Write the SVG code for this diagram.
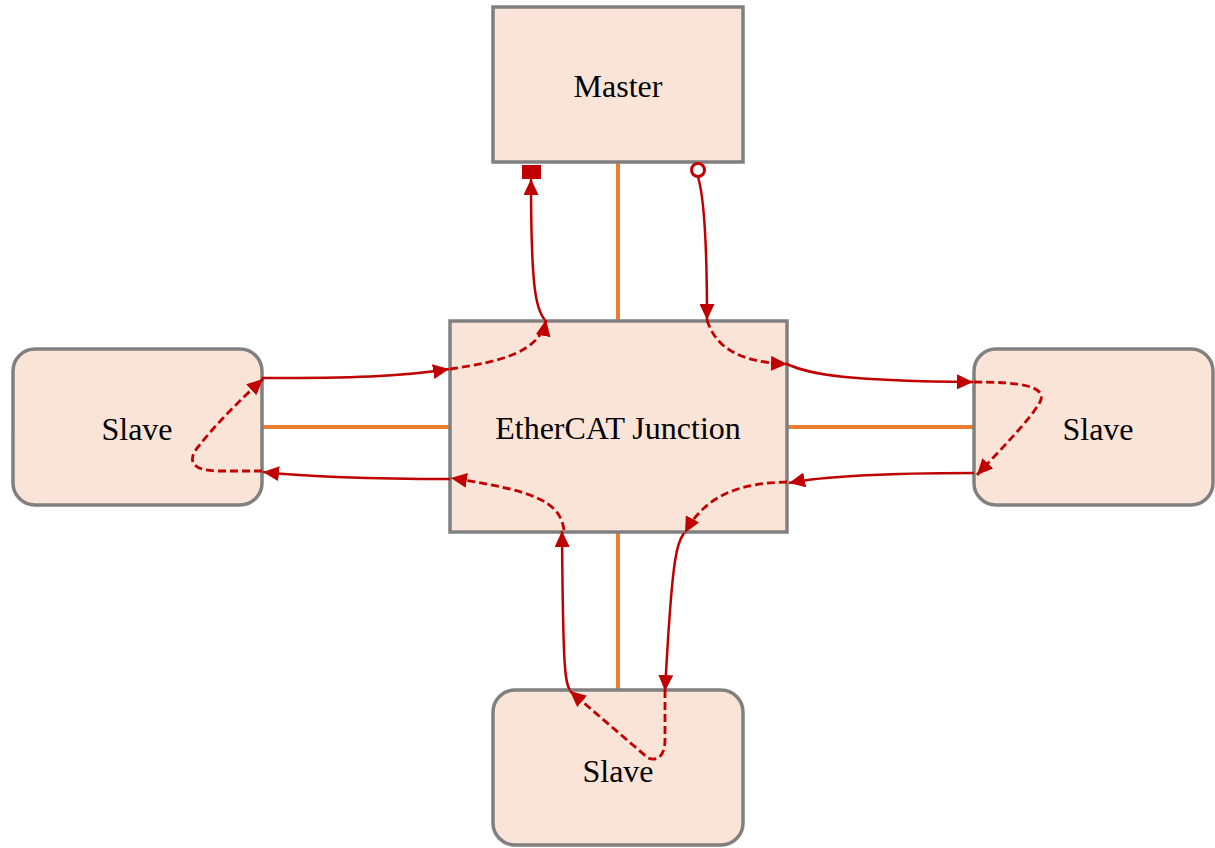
<svg xmlns="http://www.w3.org/2000/svg" width="1215" height="848" viewBox="0 0 1215 848">
<style>
.node{fill:#FAE4D7;stroke:#808080;stroke-width:3.5}
.lbl{font-family:"Liberation Serif","DejaVu Serif",serif;font-size:32px;fill:#000;text-anchor:middle;dominant-baseline:central}
.link{stroke:#ED7D31;stroke-width:4;fill:none}
.flow{stroke:#C00000;stroke-width:2.5;fill:none}
.dash{stroke-width:2.8;stroke-dasharray:8,4}
</style>
<defs>
<marker id="ah" markerUnits="userSpaceOnUse" markerWidth="17" markerHeight="15" refX="16" refY="7.5" orient="auto">
<path d="M0,0 L16,7.5 L0,15 Z" fill="#C00000"/>
</marker>
</defs>
<g id="links">
<line class="link" x1="618" y1="162" x2="618" y2="321"/>
<line class="link" x1="262" y1="427" x2="450" y2="427"/>
<line class="link" x1="787" y1="427" x2="974" y2="427"/>
<line class="link" x1="618" y1="532" x2="618" y2="690"/>
</g>
<g id="master">
<rect class="node" x="493" y="7" width="250" height="155"/>
<text class="lbl" x="618" y="86">Master</text>
</g>
<g id="junction">
<rect class="node" x="450" y="321" width="337" height="211"/>
<text class="lbl" x="618" y="428">EtherCAT Junction</text>
</g>
<g id="slave-left">
<rect class="node" x="13" y="349" width="249" height="156" rx="22"/>
<text class="lbl" x="137" y="429">Slave</text>
</g>
<g id="slave-right">
<rect class="node" x="974" y="349" width="239" height="156" rx="22"/>
<text class="lbl" x="1098" y="429">Slave</text>
</g>
<g id="slave-bottom">
<rect class="node" x="493" y="690" width="250" height="155" rx="22"/>
<text class="lbl" x="618" y="771">Slave</text>
</g>
<g id="connectors">
<rect x="522" y="165" width="19" height="14" fill="#C00000"/>
<circle cx="698" cy="170" r="6.5" fill="#fff" stroke="#C00000" stroke-width="3"/>
<path class="flow" d="M545,320 C536,310 531,290 531,179" marker-end="url(#ah)"/>
<path class="flow" d="M698,177 C702,190 707,220 707,320" marker-end="url(#ah)"/>
<path class="flow dash" d="M707,320 C715,345 735,362 787,364" marker-end="url(#ah)"/>
<path class="flow" d="M787,364 C810,375 850,381 973,382" marker-end="url(#ah)"/>
<path class="flow dash" d="M974,382 C1020,382 1048,386 1040,402 C1030,420 1000,450 977,475" marker-end="url(#ah)"/>
<path class="flow" d="M974,473 C900,473 830,475 789,483" marker-end="url(#ah)"/>
<path class="flow dash" d="M787,482 C740,483 705,495 685,533" marker-end="url(#ah)"/>
<path class="flow" d="M684,533 C676,545 672,560 665,691" marker-end="url(#ah)"/>
<path class="flow dash" d="M665,690 L665,740 C665,755 658,762 648,758 L570,691" marker-end="url(#ah)"/>
<path class="flow" d="M570,690 C565,683 563,670 562,531" marker-end="url(#ah)"/>
<path class="flow dash" d="M564,530 C560,500 530,490 451,478" marker-end="url(#ah)"/>
<path class="flow" d="M450,479 C380,479 320,478 263,472" marker-end="url(#ah)"/>
<path class="flow dash" d="M262,471 L215,471 C192,470 187,460 198,447 C215,425 240,400 263,379" marker-end="url(#ah)"/>
<path class="flow" d="M262,378 C350,378 400,377 449,369" marker-end="url(#ah)"/>
<path class="flow dash" d="M450,369 C500,362 540,352 546,320" marker-end="url(#ah)"/>
</g>
</svg>
